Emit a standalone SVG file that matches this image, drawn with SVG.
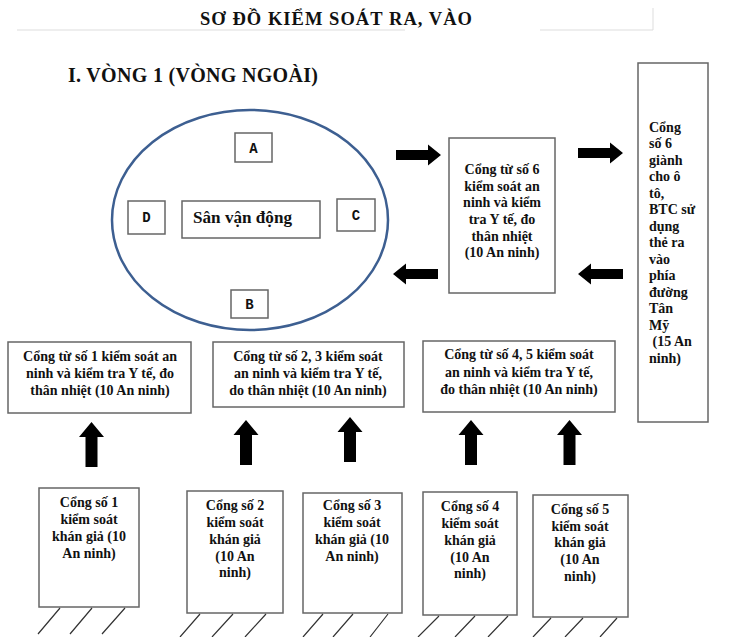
<svg xmlns="http://www.w3.org/2000/svg" width="730" height="637" viewBox="0 0 730 637">
<style>
.bx{fill:#fff;stroke:#666;stroke-width:1.5}
.t{font-weight:bold;font-size:14px;fill:#111;text-anchor:middle}
.tl{font-weight:bold;font-size:14px;fill:#111}
.m{font-weight:bold;font-size:14px;fill:#111;text-anchor:middle}
.h{stroke:#333;stroke-width:1.2;fill:none}
.faint{stroke:#ddd;stroke-width:1;fill:none}
</style>
<defs>
<path id="ar" d="M0,-5 H32 V-10.5 L45,0 L32,10.5 V5 H0 Z" fill="#000"/>
<path id="au" d="M0,0 L12.5,15 H6 V45 H-6 V15 H-12.5 Z" fill="#000"/>
</defs>
<rect width="730" height="637" fill="#fff"/>
<g font-family="Liberation Serif,serif">
<g id="header">
<path class="faint" d="M17,30 H405 M540,30 H653 V8"/>
<text x="336" y="25" font-weight="bold" font-size="18.5" text-anchor="middle" textLength="272" fill="#111">SƠ ĐỒ KIỂM SOÁT RA, VÀO</text>
<text x="68" y="82" font-weight="bold" font-size="20" textLength="250" fill="#111">I. VÒNG 1 (VÒNG NGOÀI)</text>
</g>
<g id="stadium">
<ellipse cx="250" cy="220" rx="138" ry="110" fill="none" stroke="#3d5f91" stroke-width="2.5"/>
</g>
<g id="boxA"><rect class="bx" x="235" y="133" width="37" height="29"/><text class="m" font-family="Liberation Mono,monospace" x="253.5" y="153">A</text></g>
<g id="boxD"><rect class="bx" x="128" y="201" width="37" height="33"/><text class="m" font-family="Liberation Mono,monospace" x="146.5" y="222">D</text></g>
<g id="boxSan"><rect class="bx" x="182" y="201" width="138" height="37"/><text x="193" y="223" font-weight="bold" font-size="17" fill="#111" textLength="99" lengthAdjust="spacingAndGlyphs">Sân vận động</text></g>
<g id="boxC"><rect class="bx" x="337" y="199" width="38" height="32"/><text class="m" font-family="Liberation Mono,monospace" x="356" y="220">C</text></g>
<g id="boxB"><rect class="bx" x="231" y="290" width="37" height="28"/><text class="m" font-family="Liberation Mono,monospace" x="249.5" y="309">B</text></g>
<g id="gate6inner"><rect class="bx" x="449" y="138" width="106" height="155"/>
<text class="t" font-size="15"><tspan x="502" y="174">Cổng từ  số 6</tspan><tspan x="502" y="191">kiểm soát an</tspan><tspan x="502" y="207">ninh và kiểm</tspan><tspan x="502" y="224">tra Y tế, đo</tspan><tspan x="502" y="241">thân nhiệt</tspan><tspan x="502" y="257">(10 An ninh)</tspan></text></g>
<g id="gate6"><rect class="bx" x="638" y="63" width="70" height="359"/>
<text class="tl"><tspan x="649" y="132">Cổng</tspan><tspan x="649" y="148">số 6</tspan><tspan x="649" y="165">giành</tspan><tspan x="649" y="181">cho ô</tspan><tspan x="649" y="198">tô,</tspan><tspan x="649" y="214">BTC sử</tspan><tspan x="649" y="231">dụng</tspan><tspan x="649" y="247">thẻ ra</tspan><tspan x="649" y="264">vào</tspan><tspan x="649" y="280">phía</tspan><tspan x="649" y="297">đường</tspan><tspan x="649" y="313">Tân</tspan><tspan x="649" y="330">Mỹ</tspan><tspan x="649" y="346"> (15 An</tspan><tspan x="649" y="363">ninh)</tspan></text></g>
<g id="inner1"><rect class="bx" x="8" y="342" width="183" height="71"/>
<text class="t"><tspan x="100" y="361">Cổng từ số 1 kiểm soát an</tspan><tspan x="100" y="378">ninh và kiểm tra Y tế, đo</tspan><tspan x="100" y="395">thân nhiệt (10 An ninh)</tspan></text></g>
<g id="inner23"><rect class="bx" x="213" y="342" width="191" height="65"/>
<text class="t"><tspan x="308" y="361">Cổng từ số 2, 3 kiểm soát</tspan><tspan x="308" y="378">an ninh và kiểm tra Y tế,</tspan><tspan x="308" y="395">do thân nhiệt (10 An ninh)</tspan></text></g>
<g id="inner45"><rect class="bx" x="423" y="341" width="192" height="71"/>
<text class="t"><tspan x="519" y="359">Cổng từ số 4, 5 kiểm soát</tspan><tspan x="519" y="377">an ninh và kiểm tra Y tế,</tspan><tspan x="519" y="394">đo thân nhiệt (10 An ninh)</tspan></text></g>
<g id="g1"><rect class="bx" x="39" y="488" width="100" height="119"/>
<text class="t"><tspan x="89" y="507">Cổng số 1</tspan><tspan x="89" y="524">kiểm soát</tspan><tspan x="89" y="541">khán giả (10</tspan><tspan x="89" y="558">An ninh)</tspan></text>
<path class="h" d="M60,608 L38,634 M92,608 L70,634 M125,608 L102,634"/></g>
<g id="g2"><rect class="bx" x="187" y="491" width="96" height="122"/>
<text class="t"><tspan x="235" y="510">Cổng số 2</tspan><tspan x="235" y="527">kiểm soát</tspan><tspan x="235" y="544">khán giả</tspan><tspan x="235" y="561">(10 An</tspan><tspan x="235" y="577">ninh)</tspan></text>
<path class="h" d="M200,614 L180,637 M233,614 L212,637 M266,614 L245,637"/></g>
<g id="g3"><rect class="bx" x="303" y="493" width="99" height="120"/>
<text class="t"><tspan x="352" y="510">Cổng số 3</tspan><tspan x="352" y="527">kiểm soát</tspan><tspan x="352" y="544">khán giả (10</tspan><tspan x="352" y="561">An ninh)</tspan></text>
<path class="h" d="M323,614 L303,637 M353,614 L333,637 M388,614 L370,637"/></g>
<g id="g4"><rect class="bx" x="423" y="492" width="94" height="123"/>
<text class="t"><tspan x="470" y="511">Cổng số 4</tspan><tspan x="470" y="528">kiểm soát</tspan><tspan x="470" y="545">khán giả</tspan><tspan x="470" y="562">(10 An</tspan><tspan x="470" y="578">ninh)</tspan></text>
<path class="h" d="M439,616 L418,637 M475,616 L455,637 M508,616 L488,637"/></g>
<g id="g5"><rect class="bx" x="533" y="495" width="95" height="122"/>
<text class="t"><tspan x="580" y="514">Cổng số 5</tspan><tspan x="580" y="531">kiểm soát</tspan><tspan x="580" y="547">khán giả</tspan><tspan x="580" y="564">(10 An</tspan><tspan x="580" y="581">ninh)</tspan></text>
<path class="h" d="M551,618 L533,637 M583,618 L565,637 M617,618 L600,637"/></g>
</g>
<g id="connectors">
<use href="#ar" transform="translate(396,155)"/>
<use href="#ar" transform="translate(438,274) scale(-1,1)"/>
<use href="#ar" transform="translate(578,153)"/>
<use href="#ar" transform="translate(623,274) scale(-1,1)"/>
<use href="#au" transform="translate(91.5,422)"/>
<use href="#au" transform="translate(246,420)"/>
<use href="#au" transform="translate(350,417)"/>
<use href="#au" transform="translate(471,420)"/>
<use href="#au" transform="translate(569.5,420)"/>
</g>
</svg>
